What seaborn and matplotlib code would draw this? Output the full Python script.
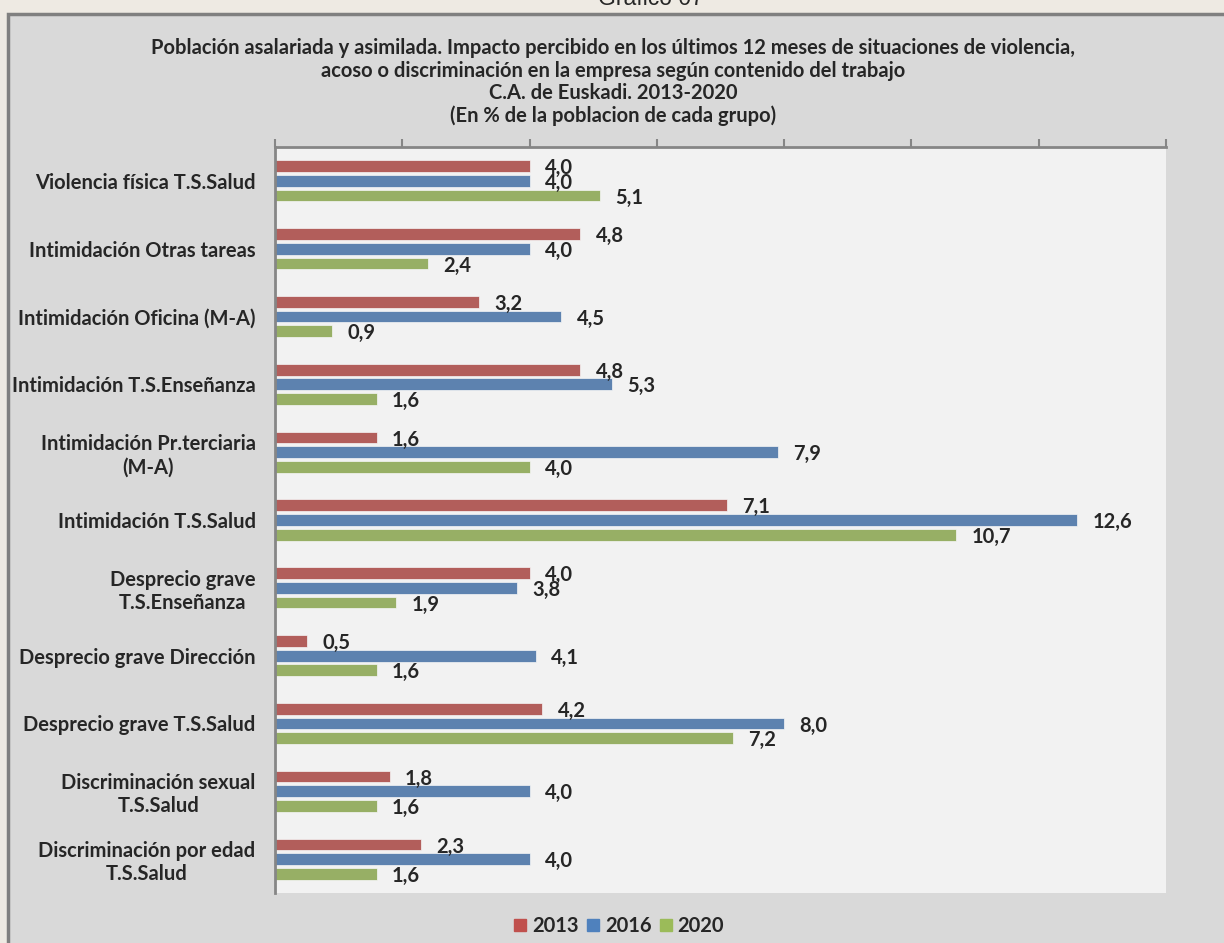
import pandas as pd
import seaborn as sns
import matplotlib.pyplot as plt
from matplotlib.patches import Rectangle
from matplotlib.lines import Line2D

# Datos
categorias = [
    'Violencia física T.S.Salud',
    'Intimidación Otras tareas',
    'Intimidación Oficina (M-A)',
    'Intimidación T.S.Enseñanza',
    'Intimidación Pr.terciaria\n(M-A)',
    'Intimidación T.S.Salud',
    'Desprecio grave\nT.S.Enseñanza',
    'Desprecio grave Dirección',
    'Desprecio grave T.S.Salud',
    'Discriminación sexual\nT.S.Salud',
    'Discriminación por edad\nT.S.Salud',
]
anios = ['2013', '2016', '2020']
v2013 = [4.0, 4.8, 3.2, 4.8, 1.6, 7.1, 4.0, 0.5, 4.2, 1.8, 2.3]
v2016 = [4.0, 4.0, 4.5, 5.3, 7.9, 12.6, 3.8, 4.1, 8.0, 4.0, 4.0]
v2020 = [5.1, 2.4, 0.9, 1.6, 4.0, 10.7, 1.9, 1.6, 7.2, 1.6, 1.6]
colores = ['#C0504D', '#4F81BD', '#9BBB59']

titulo = ['Población asalariada y asimilada. Impacto percibido en los últimos 12 meses de situaciones de violencia,',
          'acoso o discriminación en la empresa según contenido del trabajo',
          'C.A. de Euskadi. 2013-2020',
          '(En % de la poblacion de cada grupo)']

# Tabla larga para seaborn
df = pd.DataFrame({
    'categoria': categorias * 3,
    'anio': [a for a in anios for _ in categorias],
    'valor': v2013 + v2016 + v2020,
})

sns.set_style('white')
plt.rcParams['font.family'] = ['Lato', 'DejaVu Sans']
fs = 14.5

fig = plt.figure(figsize=(12.24, 9.43), dpi=100)
fig.patch.set_facecolor('#EEEAE3')

# Caja gris del grafico
caja = Rectangle((8 / 1224, -0.1), 1.1, 1 - 14 / 943 + 0.1, transform=fig.transFigure,
                 facecolor='#D9D9D9', edgecolor='#808080', linewidth=2.5, zorder=-5)
fig.patches.append(caja)

fig.text(651 / 1224, 1 - 5 / 943, 'Gráfico 07', ha='center', va='baseline', fontsize=16.5,
         family=['Liberation Sans', 'DejaVu Sans'])
for i, linea in enumerate(titulo):
    fig.text(613 / 1224, 1 - (48 + 22.6 * i) / 943, linea, ha='center', va='center',
             fontsize=fs, fontweight='bold')

ax = fig.add_axes([275 / 1224, 1 - 893 / 943, (1166 - 275) / 1224, (893 - 147) / 943])
ax.set_facecolor('#F2F2F2')

sns.barplot(data=df, y='categoria', x='valor', hue='anio', orient='h', palette=colores,
            width=0.65, gap=0.2, edgecolor='#F6F6F6', linewidth=0.5, ax=ax, legend=False)

# Etiquetas de valor
for cont, vals in zip(ax.containers, [v2013, v2016, v2020]):
    for barra, v in zip(cont, vals):
        y = barra.get_y() + barra.get_height() / 2
        ax.annotate(f'{v:.1f}'.replace('.', ','), (barra.get_width(), y),
                    xytext=(11, -1.5), textcoords='offset points', va='center', ha='left',
                    fontsize=fs, fontweight='bold')

ax.set_xlim(0, 14)
ax.set_ylim(len(categorias) - 0.5, -0.5)
ax.xaxis.tick_top()
ax.set_xticks(range(0, 15, 2))
ax.set_xticklabels([])
ax.set_xlabel('')
ax.set_ylabel('')

ax.set_yticks(range(len(categorias)))
ax.set_yticklabels(categorias, fontsize=fs, fontweight='bold', ha='right',
                   multialignment='center')
ax.tick_params(axis='y', which='major', length=0, pad=14)
ax.set_yticks([i - 0.5 for i in range(len(categorias) + 1)], minor=True)
ax.tick_params(axis='y', which='minor', length=6, width=1.5, color='#868686', direction='out')
ax.tick_params(axis='x', length=6, width=1.5, color='#868686', direction='out')

for lado in ['right', 'bottom']:
    ax.spines[lado].set_visible(False)
for lado in ['left', 'top']:
    ax.spines[lado].set_color('#868686')
    ax.spines[lado].set_linewidth(2)

# Leyenda
marcas = [Line2D([0], [0], marker='s', color='none', markerfacecolor=c, markeredgecolor=c,
                 markersize=9) for c in colores]
fig.legend(marcas, anios, loc='center', bbox_to_anchor=(618 / 1224, 1 - 926 / 943), ncol=3,
           frameon=False, handletextpad=0.2, columnspacing=0.3, handlelength=0.8,
           prop={'weight': 'bold', 'size': fs})

fig.savefig('out.png', dpi=100, facecolor=fig.get_facecolor())
